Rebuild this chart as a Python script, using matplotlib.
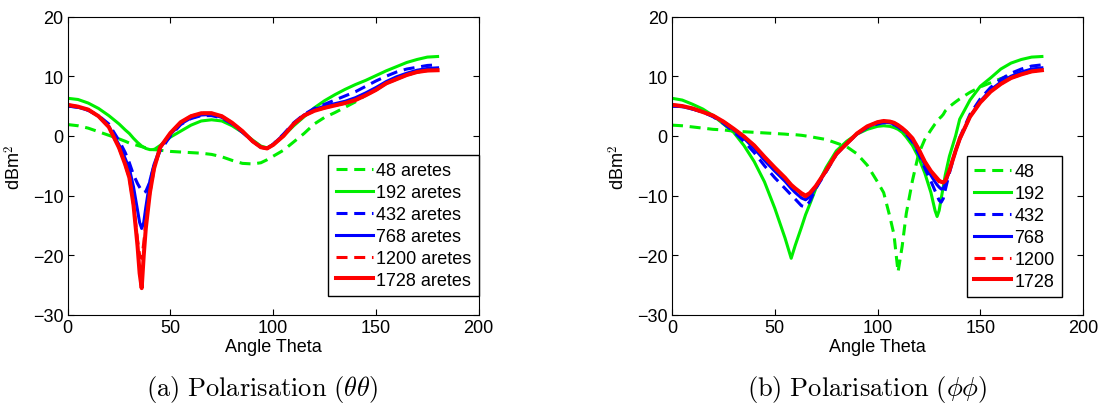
import numpy as np
import matplotlib.pyplot as plt

plt.rcParams['font.family'] = ['Liberation Sans', 'DejaVu Sans']
plt.rcParams['mathtext.fontset'] = 'cm'

# ---- (a) polarisation theta-theta ----
theta_a = [0, 5, 10, 15, 20, 25, 28, 30, 32, 34, 35, 36, 37, 38, 40, 42, 45, 50, 55, 60,
           65, 70, 75, 80, 85, 90, 94, 97, 100, 105, 110, 115, 120, 125, 130, 135, 140,
           145, 150, 155, 160, 165, 170, 175, 180]
a_48 = [1.9, 1.7, 1.3, 0.7, 0.1, -0.5, -0.9, -1.2, -1.4, -1.6, -1.7, -1.8, -1.9, -2.0, -2.1,
        -2.3, -2.4, -2.6, -2.7, -2.8, -2.9, -3.1, -3.5, -4.1, -4.6, -4.7, -4.5, -4.0, -3.4,
        -2.4, -1.0, 0.4, 2.0, 3.1, 3.9, 4.8, 5.7, 6.8, 7.7, 8.8, 9.5, 10.2, 10.7, 10.95, 11.0]
a_192 = [6.3, 6.1, 5.5, 4.6, 3.4, 2.0, 1.0, 0.4, -0.4, -1.1, -1.4, -1.7, -1.9, -2.1, -2.3,
         -2.3, -1.6, -0.2, 0.8, 1.8, 2.5, 2.7, 2.5, 1.7, 0.6, -0.7, -1.7, -2.0, -1.5, 0.0,
         1.7, 3.2, 4.7, 5.9, 6.9, 7.8, 8.6, 9.3, 10.1, 10.9, 11.6, 12.3, 12.8, 13.2, 13.3]
a_432 = [5.0, 4.8, 4.3, 3.4, 2.0, -0.8, -2.8, -4.5, -6.5, -8.0, -8.6, -9.2, -9.5, -9.3, -7.7,
         -5.0, -2.5, 0.0, 1.9, 2.9, 3.4, 3.4, 3.0, 2.0, 0.6, -0.9, -1.9, -2.1, -1.4, 0.3,
         2.2, 3.6, 4.6, 5.3, 6.0, 6.7, 7.4, 8.3, 9.2, 10.0, 10.7, 11.2, 11.5, 11.8, 11.9]
a_768 = [5.0, 4.8, 4.3, 3.3, 1.6, -1.5, -3.8, -5.5, -8.5, -12.5, -14.5, -15.5, -14.5, -12.0,
         -7.5, -4.8, -2.0, 0.3, 2.0, 3.0, 3.5, 3.6, 3.1, 2.1, 0.7, -0.9, -1.9, -2.1, -1.4,
         0.2, 2.1, 3.5, 4.4, 5.0, 5.4, 5.8, 6.4, 7.2, 8.1, 9.1, 9.9, 10.5, 11.0, 11.3, 11.4]
a_1200 = [5.2, 4.9, 4.4, 3.3, 1.5, -2.0, -4.8, -7.0, -11.5, -17.5, -20.0, -20.5, -18.0, -14.5,
          -9.5, -5.6, -2.0, 0.5, 2.3, 3.3, 3.8, 3.8, 3.3, 2.2, 0.8, -0.9, -1.9, -2.1, -1.5,
          0.0, 2.0, 3.4, 4.2, 4.7, 5.1, 5.5, 6.0, 6.8, 7.7, 8.8, 9.5, 10.2, 10.7, 10.95, 11.0]
a_1728 = [5.2, 4.9, 4.4, 3.3, 1.5, -2.0, -4.8, -7.0, -11.5, -18.5, -23.0, -25.5, -20.0, -15.5,
          -9.5, -5.5, -1.9, 0.5, 2.3, 3.3, 3.8, 3.8, 3.3, 2.2, 0.8, -0.9, -1.9, -2.1, -1.5,
          0.0, 2.0, 3.4, 4.2, 4.7, 5.1, 5.5, 6.0, 6.8, 7.7, 8.8, 9.5, 10.2, 10.7, 10.95, 11.0]

# ---- (b) polarisation phi-phi ----
theta_b = [0, 5, 10, 15, 20, 25, 30, 35, 40, 45, 50, 55, 58, 60, 63, 65, 67, 70, 75, 80, 85,
           90, 95, 100, 103, 106, 108, 110, 112, 114, 117, 120, 123, 126, 128, 129, 130, 131,
           132, 133, 135, 138, 140, 145, 150, 155, 160, 165, 170, 175, 180]
b_48 = [1.8, 1.7, 1.5, 1.3, 1.1, 1.0, 0.8, 0.7, 0.6, 0.5, 0.4, 0.3, 0.2, 0.2, 0.1, 0.0, -0.1,
        -0.3, -0.6, -1.2, -1.8, -3.0, -4.9, -7.7, -9.5, -13.5, -16.5, -22.8, -18.5, -13.0,
        -7.5, -3.0, -0.6, 1.0, 2.0, 2.4, 2.9, 3.2, 3.6, 4.2, 4.9, 5.7, 6.2, 7.3, 8.2, 8.9,
        9.6, 10.2, 10.6, 10.9, 11.0]
b_192 = [6.3, 6.0, 5.3, 4.5, 3.4, 2.0, 0.6, -1.6, -4.3, -7.7, -12.1, -17.1, -20.5, -18.3,
         -15.3, -13.2, -11.5, -8.8, -5.3, -2.5, -0.9, 0.3, 1.1, 1.6, 1.7, 1.6, 1.4, 1.1, 0.6,
         -0.2, -1.6, -3.6, -6.2, -9.5, -12.5, -13.5, -12.5, -10.5, -8.5, -6.5, -3.4, 0.0,
         2.8, 6.0, 8.3, 9.7, 11.2, 12.2, 12.8, 13.2, 13.3]
b_432 = [5.0, 4.9, 4.5, 4.0, 3.2, 2.1, 0.7, -0.9, -2.8, -5.0, -7.0, -8.8, -9.9, -10.6, -11.7,
         -11.9, -11.0, -8.8, -6.0, -3.1, -1.3, 0.3, 1.4, 2.0, 2.2, 2.1, 1.9, 1.5, 1.0, 0.3,
         -1.0, -3.0, -5.4, -7.6, -9.2, -10.0, -10.8, -11.1, -10.5, -9.0, -6.2, -2.5, -0.3,
         3.6, 6.2, 8.1, 9.5, 10.5, 11.2, 11.7, 11.9]
b_768 = [5.0, 4.9, 4.5, 4.0, 3.3, 2.3, 1.0, -0.4, -2.1, -4.1, -5.9, -7.6, -8.8, -9.5, -10.4,
         -10.7, -10.2, -8.6, -5.9, -3.0, -1.3, 0.3, 1.5, 2.2, 2.3, 2.2, 2.0, 1.6, 1.1, 0.5,
         -0.7, -2.6, -4.8, -6.6, -7.7, -8.2, -8.6, -8.9, -8.8, -8.0, -5.8, -2.5, -0.6, 3.2,
         5.8, 7.7, 9.0, 10.0, 10.7, 11.2, 11.4]
b_1200 = [5.2, 5.0, 4.6, 4.0, 3.4, 2.4, 1.2, -0.1, -1.6, -3.6, -5.4, -7.1, -8.3, -8.9, -9.8,
          -10.2, -9.7, -8.4, -5.8, -3.0, -1.3, 0.4, 1.6, 2.3, 2.5, 2.4, 2.2, 1.8, 1.3, 0.7,
          -0.4, -2.2, -4.3, -6.0, -6.9, -7.3, -7.7, -8.0, -7.9, -7.5, -5.8, -2.5, -0.5, 3.2,
          5.6, 7.4, 8.7, 9.7, 10.3, 10.8, 11.0]
b_1728 = [5.2, 5.0, 4.6, 4.0, 3.4, 2.4, 1.2, -0.1, -1.6, -3.5, -5.3, -7.0, -8.2, -8.8, -9.6,
          -10.0, -9.6, -8.4, -5.8, -3.0, -1.3, 0.4, 1.6, 2.3, 2.5, 2.4, 2.2, 1.8, 1.3, 0.7,
          -0.4, -2.2, -4.3, -5.9, -6.7, -7.1, -7.5, -7.7, -7.8, -7.5, -5.8, -2.5, -0.5, 3.2,
          5.6, 7.4, 8.7, 9.7, 10.3, 10.8, 11.0]

counts = ['48', '192', '432', '768', '1200', '1728']
colors = ['#00ee00', '#00ee00', 'blue', 'blue', 'red', 'red']
styles = ['--', '-', '--', '-', '--', '-']
widths = [2.2, 2.2, 2.2, 2.2, 2.2, 2.9]
fs = 13

fig = plt.figure(figsize=(11.02, 4.06), dpi=100)
ax_a = fig.add_axes([67.7 / 1102, 90 / 406, 411 / 1102, 298.5 / 406])
ax_b = fig.add_axes([672 / 1102, 90 / 406, 411 / 1102, 298.5 / 406])


def draw(ax, theta, series, labels, legend_box):
    for y, lab, c, ls, lw in zip(series, labels, colors, styles, widths):
        line, = ax.plot(theta, y, color=c, linestyle=ls, linewidth=lw, label=lab)
        if ls == '--':
            line.set_dashes((3.6, 2.2))
    ax.set_xlim(0, 200)
    ax.set_ylim(-30, 20)
    ax.set_xticks([0, 50, 100, 150, 200])
    ax.set_yticks([-30, -20, -10, 0, 10, 20])
    ax.tick_params(direction='in', top=True, right=True, length=4, labelsize=fs, pad=3)
    ax.set_xlabel('Angle Theta', fontsize=fs, labelpad=1)
    ax.set_ylabel('dBm$^2$', fontsize=fs, labelpad=6)
    leg = ax.legend(loc='lower right', bbox_to_anchor=legend_box, fontsize=fs,
                    frameon=True, fancybox=False, framealpha=1, edgecolor='black',
                    handlelength=2.05, handletextpad=0.2, labelspacing=0.27,
                    borderpad=0.4, borderaxespad=0)
    leg.get_frame().set_linewidth(1.0)


draw(ax_a, theta_a, [a_48, a_192, a_432, a_768, a_1200, a_1728],
     [c + ' aretes' for c in counts], (1.0, 19 / 298.5))
draw(ax_b, theta_b, [b_48, b_192, b_432, b_768, b_1200, b_1728],
     counts, ((1062 - 672) / 411, 18 / 298.5))

fig.text(262.5 / 1102, 1 - 390 / 406, r'$\mathrm{(a)\ Polarisation\ }(\theta\theta)$',
         ha='center', va='center', fontsize=19)
fig.text(867 / 1102, 1 - 390 / 406, r'$\mathrm{(b)\ Polarisation\ }(\phi\phi)$',
         ha='center', va='center', fontsize=19)

fig.savefig('out.png', dpi=100)
